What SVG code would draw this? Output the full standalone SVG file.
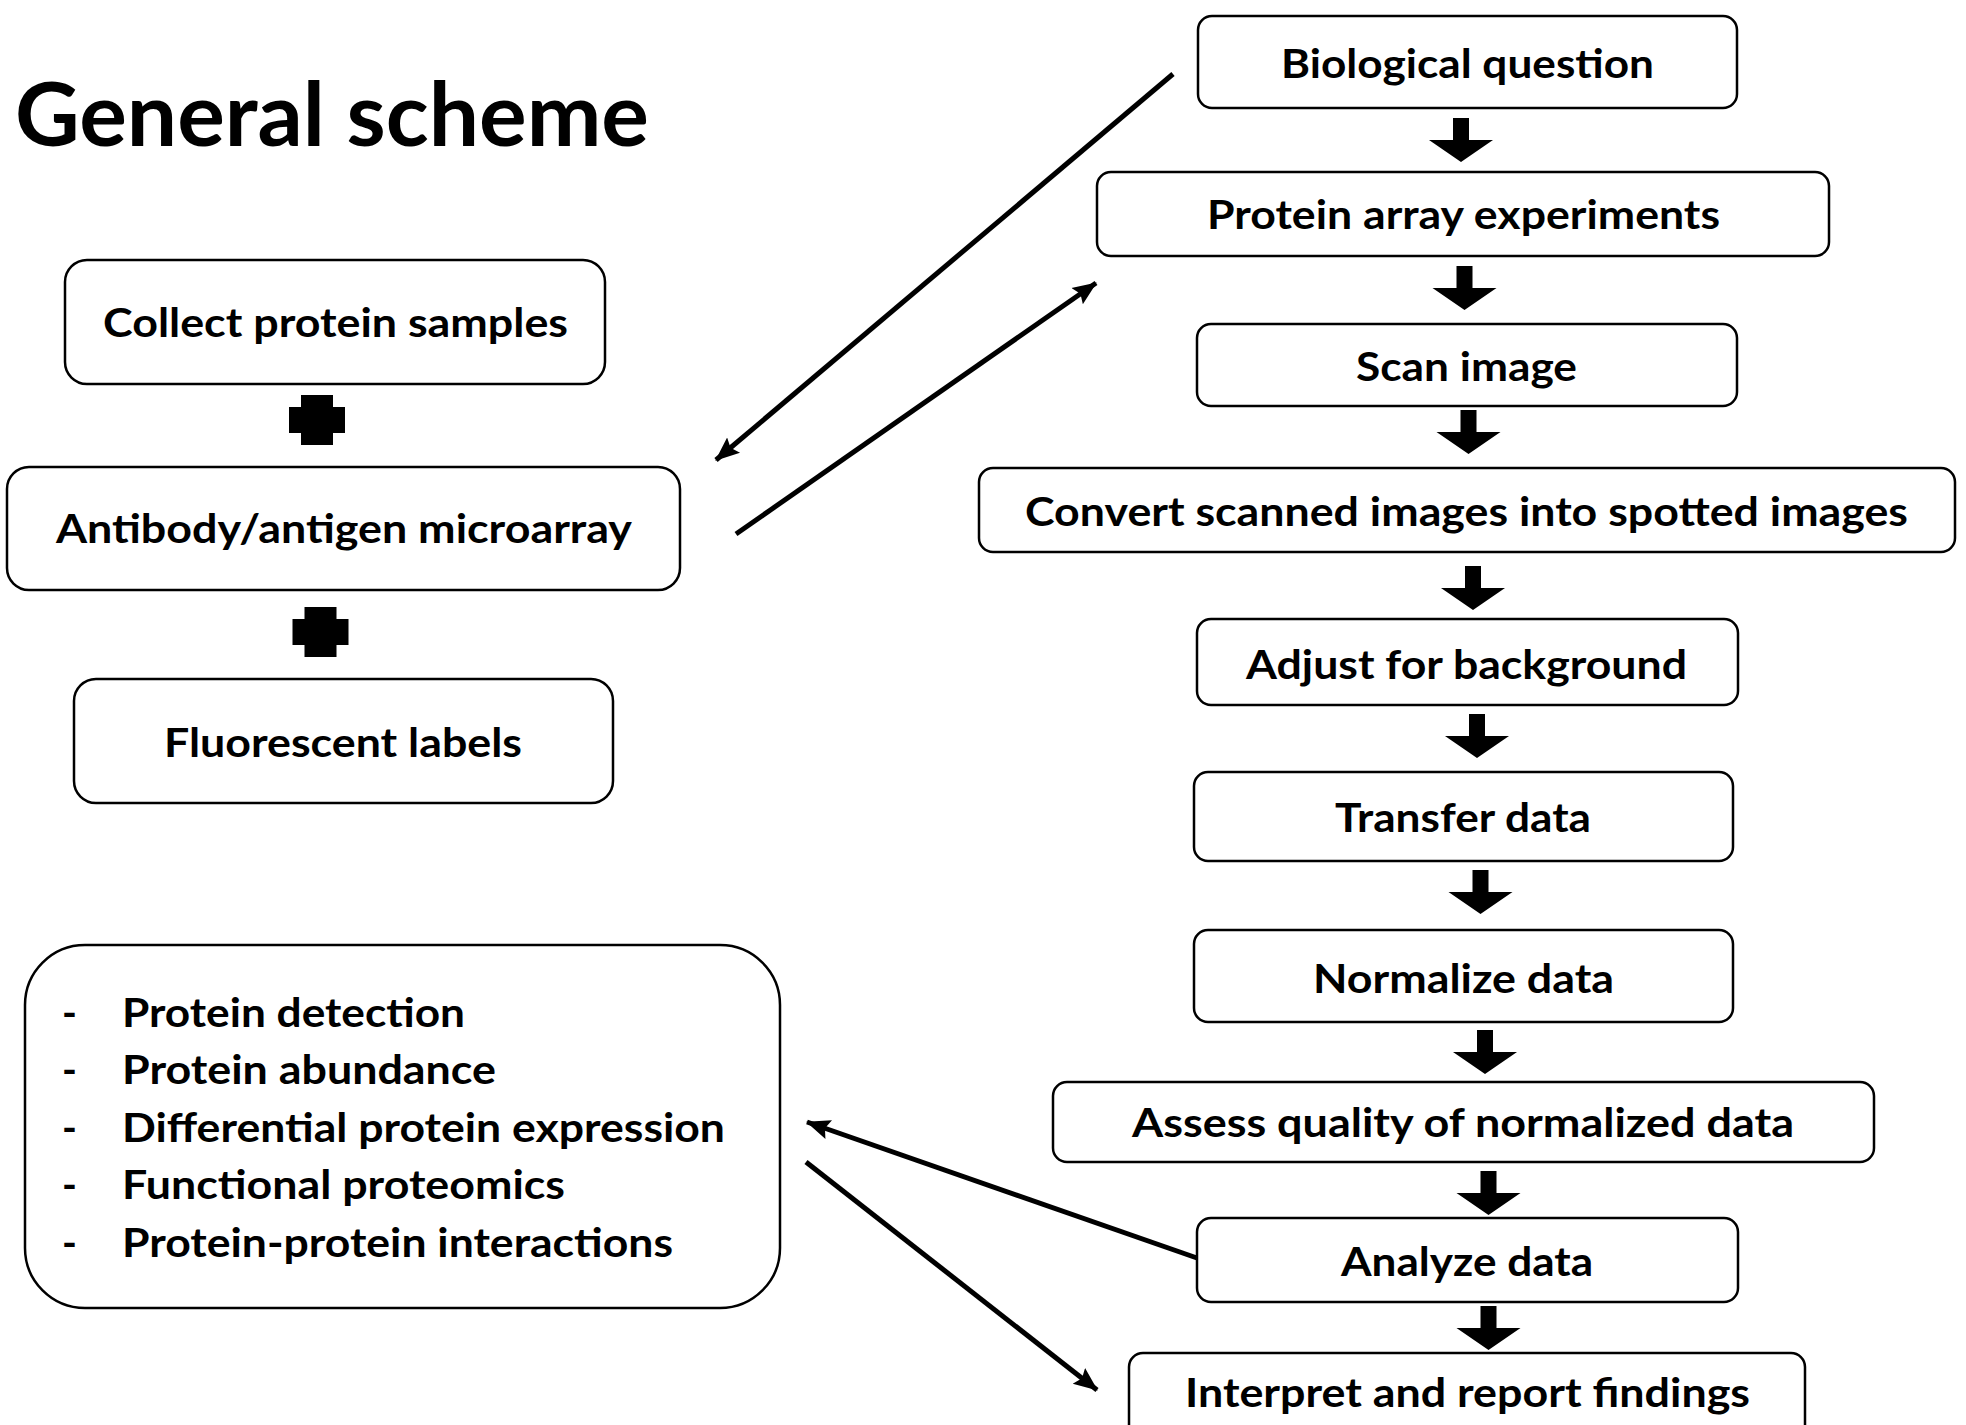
<svg xmlns="http://www.w3.org/2000/svg" width="1966" height="1425" viewBox="0 0 1966 1425">
<style>
.box{fill:#fff;stroke:#000;stroke-width:2.5}
.t{font-family:Lato,"Open Sans","Liberation Sans",sans-serif;font-weight:bold;font-size:40px;fill:#000}
.c{text-anchor:middle}
.title{font-family:Lato,"Open Sans","Liberation Sans",sans-serif;font-weight:bold;font-size:88px;fill:#000}
.conn{stroke:#000;stroke-width:5;fill:none}
</style>
<defs>
<path id="blk" d="M-8,0 H8 V22 H32 L0,44 L-32,22 H-8 Z" fill="#000"/>
<path id="plus" d="M-16,0 H16 V12 H28 V38 H16 V50 H-16 V38 H-28 V12 H-16 Z" fill="#000"/>
<marker id="ah" markerUnits="userSpaceOnUse" markerWidth="26" markerHeight="22" refX="23" refY="11" orient="auto">
<path d="M0,1 L24,11 L0,21 L4,11 Z" fill="#000"/>
</marker>
</defs>
<rect width="1966" height="1425" fill="#fff"/>
<text class="title" x="15" y="146" textLength="634" lengthAdjust="spacingAndGlyphs">General scheme</text>

<g id="n-bio"><rect class="box" x="1198" y="16" width="539" height="92" rx="14"/><text class="t c" x="1467.5" y="78" textLength="373" lengthAdjust="spacingAndGlyphs">Biological question</text></g>
<g id="n-pae"><rect class="box" x="1097" y="172" width="732" height="84" rx="14"/><text class="t c" x="1463.5" y="229" textLength="513" lengthAdjust="spacingAndGlyphs">Protein array experiments</text></g>
<g id="n-scan"><rect class="box" x="1197" y="324" width="540" height="82" rx="14"/><text class="t c" x="1466.5" y="381" textLength="221" lengthAdjust="spacingAndGlyphs">Scan image</text></g>
<g id="n-conv"><rect class="box" x="979" y="468" width="976" height="84" rx="14"/><text class="t c" x="1466.5" y="526" textLength="883" lengthAdjust="spacingAndGlyphs">Convert scanned images into spotted images</text></g>
<g id="n-adj"><rect class="box" x="1197" y="619" width="541" height="86" rx="14"/><text class="t c" x="1466.5" y="679" textLength="441" lengthAdjust="spacingAndGlyphs">Adjust for background</text></g>
<g id="n-trans"><rect class="box" x="1194" y="772" width="539" height="89" rx="14"/><text class="t c" x="1463" y="832" textLength="256" lengthAdjust="spacingAndGlyphs">Transfer data</text></g>
<g id="n-norm"><rect class="box" x="1194" y="930" width="539" height="92" rx="14"/><text class="t c" x="1463.5" y="993" textLength="301" lengthAdjust="spacingAndGlyphs">Normalize data</text></g>
<g id="n-assess"><rect class="box" x="1053" y="1082" width="821" height="80" rx="14"/><text class="t c" x="1463" y="1137" textLength="662" lengthAdjust="spacingAndGlyphs">Assess quality of normalized data</text></g>
<g id="n-anal"><rect class="box" x="1197" y="1218" width="541" height="84" rx="14"/><text class="t c" x="1467" y="1276" textLength="252" lengthAdjust="spacingAndGlyphs">Analyze data</text></g>
<g id="n-interp"><rect class="box" x="1129" y="1353" width="676" height="90" rx="14"/><text class="t c" x="1467.5" y="1407" textLength="565" lengthAdjust="spacingAndGlyphs">Interpret and report findings</text></g>

<g id="n-collect"><rect class="box" x="65" y="260" width="540" height="124" rx="22"/><text class="t c" x="335.5" y="337" textLength="465" lengthAdjust="spacingAndGlyphs">Collect protein samples</text></g>
<g id="n-anti"><rect class="box" x="7" y="467" width="673" height="123" rx="22"/><text class="t c" x="344" y="543" textLength="576" lengthAdjust="spacingAndGlyphs">Antibody/antigen microarray</text></g>
<g id="n-fluor"><rect class="box" x="74" y="679" width="539" height="124" rx="22"/><text class="t c" x="343" y="757" textLength="358" lengthAdjust="spacingAndGlyphs">Fluorescent labels</text></g>

<g id="n-list">
<rect class="box" x="25" y="945" width="755" height="363" rx="60"/>
<g class="t">
<text x="62" y="1027">-</text><text x="122" y="1027" textLength="343" lengthAdjust="spacingAndGlyphs">Protein detection</text>
<text x="62" y="1084">-</text><text x="122" y="1084" textLength="374" lengthAdjust="spacingAndGlyphs">Protein abundance</text>
<text x="62" y="1142">-</text><text x="122" y="1142" textLength="603" lengthAdjust="spacingAndGlyphs">Differential protein expression</text>
<text x="62" y="1199">-</text><text x="122" y="1199" textLength="443" lengthAdjust="spacingAndGlyphs">Functional proteomics</text>
<text x="62" y="1257">-</text><text x="122" y="1257" textLength="551" lengthAdjust="spacingAndGlyphs">Protein-protein interactions</text>
</g>
</g>

<g id="plus-signs">
<use href="#plus" x="317" y="395"/>
<use href="#plus" x="320.5" y="607"/>
</g>

<g id="connectors">
<use href="#blk" x="1461" y="118"/>
<use href="#blk" x="1464.5" y="266"/>
<use href="#blk" x="1468.5" y="410"/>
<use href="#blk" x="1473" y="566"/>
<use href="#blk" x="1477" y="714"/>
<use href="#blk" x="1480.5" y="870"/>
<use href="#blk" x="1485" y="1030"/>
<use href="#blk" x="1488.5" y="1171"/>
<use href="#blk" x="1488.5" y="1306"/>
<line class="conn" x1="1173" y1="74" x2="716" y2="460" marker-end="url(#ah)"/>
<line class="conn" x1="736" y1="534" x2="1096" y2="283" marker-end="url(#ah)"/>
<line class="conn" x1="1197" y1="1258" x2="807" y2="1122" marker-end="url(#ah)"/>
<line class="conn" x1="806" y1="1162" x2="1097" y2="1390" marker-end="url(#ah)"/>
</g>
</svg>
